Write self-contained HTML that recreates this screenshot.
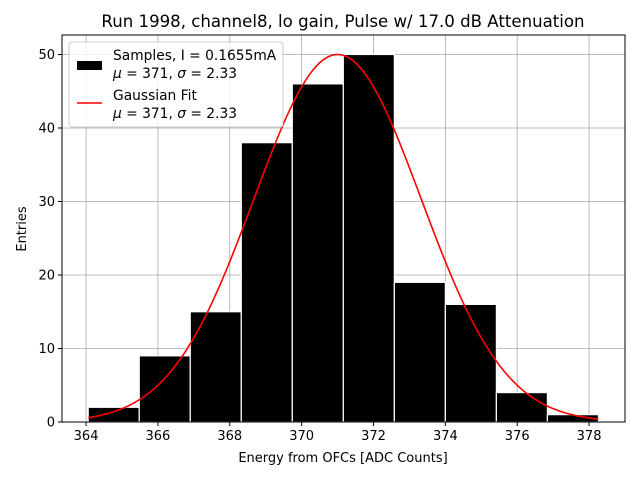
<!DOCTYPE html>
<html><head><meta charset="utf-8"><style>
body{margin:0;background:#fff;}
svg{display:block;font-family:"DejaVu Sans","Liberation Sans",sans-serif;}
</style></head><body>
<svg id="chart" width="640" height="480">
<rect x="0" y="0" width="640" height="480" fill="#fff"/>
<text x="343" y="27" font-size="16.6" text-anchor="middle">Run 1998, channel8, lo gain, Pulse w/ 17.0 dB Attenuation</text>
<g id="grid"></g>
<g id="bars"></g>
<g id="curve"></g>
<rect x="62" y="35" width="563" height="387" fill="none" stroke="#000" stroke-width="1"/>
<g id="ticks"></g>
<text x="343" y="462" font-size="13" text-anchor="middle">Energy from OFCs [ADC Counts]</text>
<text x="26" y="229" font-size="13" text-anchor="middle" transform="rotate(-90 26 229)">Entries</text>
<g>
<rect x="69" y="42" width="214" height="85" rx="3" fill="#fff" fill-opacity="0.8" stroke="#ccc"/>
<rect x="77" y="61" width="25" height="9" fill="#000"/>
<text x="113" y="60" font-size="13.8">Samples, I = 0.1655mA</text>
<text x="113" y="78" font-size="13.8"><tspan font-style="italic">μ</tspan> = 371, <tspan font-style="italic">σ</tspan> = 2.33</text>
<line x1="77" y1="103" x2="102" y2="103" stroke="red" stroke-width="1.6"/>
<text x="113" y="100" font-size="13.8">Gaussian Fit</text>
<text x="113" y="118" font-size="13.8"><tspan font-style="italic">μ</tspan> = 371, <tspan font-style="italic">σ</tspan> = 2.33</text>
</g>
</svg>
<script>
const binEdges=[364.06,365.48,366.9,368.32,369.74,371.16,372.58,374.0,375.42,376.84,378.26];
const counts=[2,9,15,38,46,50,19,16,4,1];
const xTicks=[364,366,368,370,372,374,376,378];
const yTicks=[0,10,20,30,40,50];
const fitMu=[371];
const fitSigma=[2.33];
const fitAmp=[50];
const fitRange=[364.06,378.26];
const NS="http://www.w3.org/2000/svg";
const X0=62,X1=625,Y0=422,Y1=35,xmin=363.33,xmax=379.0,ymin=0,ymax=52.65;
const xs=v=>X0+(v-xmin)/(xmax-xmin)*(X1-X0);
const ys=v=>Y0-(v-ymin)/(ymax-ymin)*(Y0-Y1);
function mk(tag,attrs,parent){const e=document.createElementNS(NS,tag);for(const k in attrs)e.setAttribute(k,attrs[k]);document.getElementById(parent).appendChild(e);return e;}
xTicks.forEach(t=>{
 const g=mk('line',{x1:xs(t),x2:xs(t),y1:Y1,y2:Y0,stroke:'#a8a8a8','stroke-width':0.8},'grid');
 
 
 const tk=mk('line',{x1:xs(t),x2:xs(t),y1:Y0,y2:Y0+4,stroke:'#000'},'ticks');
 
 
 const tx=mk('text',{x:xs(t),y:Y0+18,'font-size':13,'text-anchor':'middle'},'ticks');tx.textContent=t;
 
 
});
yTicks.forEach(t=>{
 const g=mk('line',{x1:X0,x2:X1,y1:ys(t),y2:ys(t),stroke:'#a8a8a8','stroke-width':0.8},'grid');
 
 
 const tk=mk('line',{x1:X0-4,x2:X0,y1:ys(t),y2:ys(t),stroke:'#000'},'ticks');
 
 
 const tx=mk('text',{x:X0-7,y:ys(t)+4.5,'font-size':13,'text-anchor':'end'},'ticks');tx.textContent=t;
 
 
});
counts.forEach((c,i)=>{
 const a=xs(binEdges[i]),b=xs(binEdges[i+1]);
 const r=mk('rect',{x:a,y:ys(c),width:b-a,height:ys(0)-ys(c),fill:'#000',stroke:'#fff','stroke-width':1.2},'bars');
 
 
});
let d='';
for(let i=0;i<=200;i++){const v=fitRange[0]+(fitRange[1]-fitRange[0])*i/200;
 const y=fitAmp[0]*Math.exp(-0.5*Math.pow((v-fitMu[0])/fitSigma[0],2));
 d+=(i?'L':'M')+xs(v).toFixed(2)+','+ys(y).toFixed(2);}
const p=mk('path',{d:d,fill:'none',stroke:'red','stroke-width':1.6},'curve');


</script>
</body></html>
